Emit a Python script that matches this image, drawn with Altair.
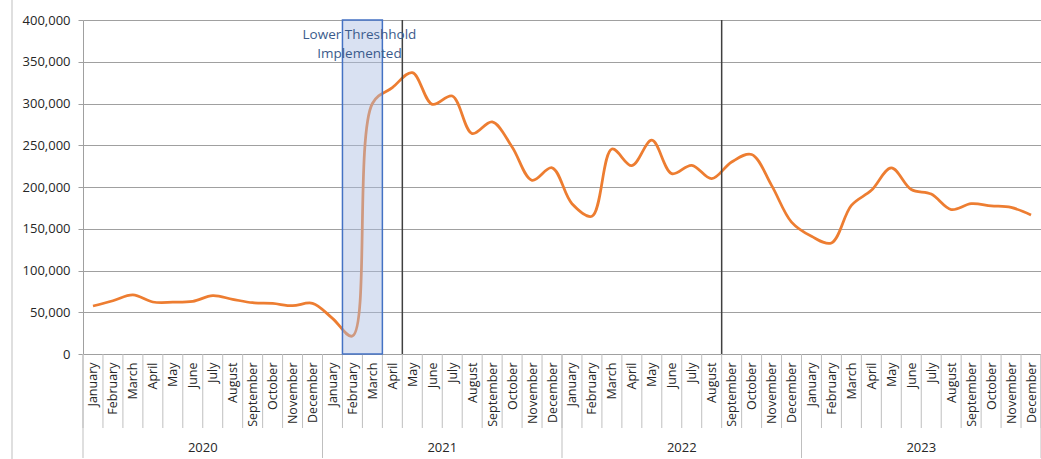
import json
import altair as alt
import pandas as pd

# Monthly counts, January 2020 - December 2023
months = ["January", "February", "March", "April", "May", "June", "July",
          "August", "September", "October", "November", "December"]
years = ["2020", "2021", "2022", "2023"]
counts_2020 = [57500, 63800, 70700, 62300, 62000, 63000, 69800, 65500, 61400, 60500, 57800, 60700]
counts_2021 = [42700, 21500, 300000, 319000, 337000, 299000, 309000, 264000, 278000, 248000, 208000, 223000]
counts_2022 = [180000, 165000, 245500, 225500, 256000, 216000, 226000, 210000, 230000, 239000, 202000, 158000]
counts_2023 = [141000, 133000, 178000, 196000, 223000, 197000, 191500, 173000, 180000, 177500, 175500, 166500]

# Shaded period (Feb-Mar 2021) and reference lines (after April 2021, after August 2022)
shade_start, shade_end = 13, 15
marker_positions = [16, 32]
shade_label = "Lower Threshhold\nImplemented"

counts = counts_2020 + counts_2021 + counts_2022 + counts_2023
n = len(counts)
series = pd.DataFrame({
    "pos": [i + 0.5 for i in range(n)],
    "value": counts,
})
month_edges = pd.DataFrame({"pos": list(range(n + 1))})
year_edges = pd.DataFrame({"pos": [12 * k for k in range(len(years) + 1)]})
year_labels = pd.DataFrame({"pos": [12 * k + 6 for k in range(len(years))], "year": years})
markers = pd.DataFrame({"pos": marker_positions})
shade = pd.DataFrame({"pos": [shade_start], "pos2": [shade_end], "value": [0], "value2": [400000],
                      "mid": [(shade_start + shade_end) / 2], "label": [shade_label]})

FONT = "Open Sans"
TEXT = "#262626"
GRID = "#A0A0A0"
DIVIDER = "#BFBFBF"
H = 334

xscale = alt.Scale(domain=[0, n], nice=False, zero=False)
yscale = alt.Scale(domain=[0, 400000], nice=False)

month_expr = json.dumps(months) + "[floor(datum.value) % 12]"

x_axis = alt.Axis(
    values=[i + 0.5 for i in range(n)], labelExpr=month_expr, labelAngle=270,
    ticks=False, tickSize=0, grid=False, labelPadding=8, labelOverlap=False,
    labelFlush=False, labelFont=FONT, labelFontSize=12.5, labelColor=TEXT,
    domainColor=GRID, title=None)
y_axis = alt.Axis(
    values=list(range(0, 400001, 50000)), labelExpr="format(datum.value, ',')",
    grid=True, gridColor=GRID, labelOverlap=False,
    tickSize=5, tickColor=GRID, domainColor=GRID, labelPadding=8,
    labelFont=FONT, labelFontSize=13, labelColor=TEXT, title=None)

X = alt.X("pos:Q", scale=xscale, axis=x_axis)
Y = alt.Y("value:Q", scale=yscale, axis=y_axis)

line = alt.Chart(series).mark_line(
    color="#ED7D31", strokeWidth=2.75, interpolate="catmull-rom"
).encode(x=X, y=Y)

month_rules = alt.Chart(month_edges).mark_rule(color=DIVIDER, strokeWidth=1).encode(
    x=X, y=alt.value(H), y2=alt.value(H + 74),
)

year_rules = alt.Chart(year_edges).mark_rule(color=DIVIDER, strokeWidth=1).encode(
    x=X, y=alt.value(H), y2=alt.value(H + 104),
)

year_text = alt.Chart(year_labels).mark_text(
    font=FONT, fontSize=13, color=TEXT, baseline="middle", align="center"
).encode(
    x=X, y=alt.value(H + 94), text="year:N",
)

shade_rect = alt.Chart(shade).mark_rect(
    fill="#ABBCE2", fillOpacity=0.45, stroke="#4472C4", strokeWidth=1.5
).encode(
    x=X, x2="pos2:Q", y=Y, y2="value2:Q",
)

marker_rules = alt.Chart(markers).mark_rule(color="#404040", strokeWidth=1.5).encode(
    x=X, y=alt.value(0), y2=alt.value(H),
)

shade_text = alt.Chart(shade).mark_text(
    font=FONT, fontSize=13.5, color="#3B5B8C", lineBreak="\n", lineHeight=19,
    align="center", baseline="middle", dx=-3
).encode(
    x=alt.X("mid:Q", scale=xscale, axis=x_axis), y=alt.value(15), text="label:N",
)

border = alt.Chart(year_labels.head(1)).mark_rule(color=DIVIDER, strokeWidth=1).encode(
    x=alt.value(-71), y=alt.value(-20), y2=alt.value(H + 105),
)

chart = alt.layer(
    line, border, month_rules, year_rules, year_text, shade_rect, marker_rules, shade_text
).properties(
    width=958, height=H,
    padding={"left": 83, "top": 20, "right": 0, "bottom": 105},
    autosize=alt.AutoSizeParams(type="none"),
    background="white",
).configure_view(stroke=None)

chart.save("out.html", embed_options={"renderer": "svg", "actions": False})
